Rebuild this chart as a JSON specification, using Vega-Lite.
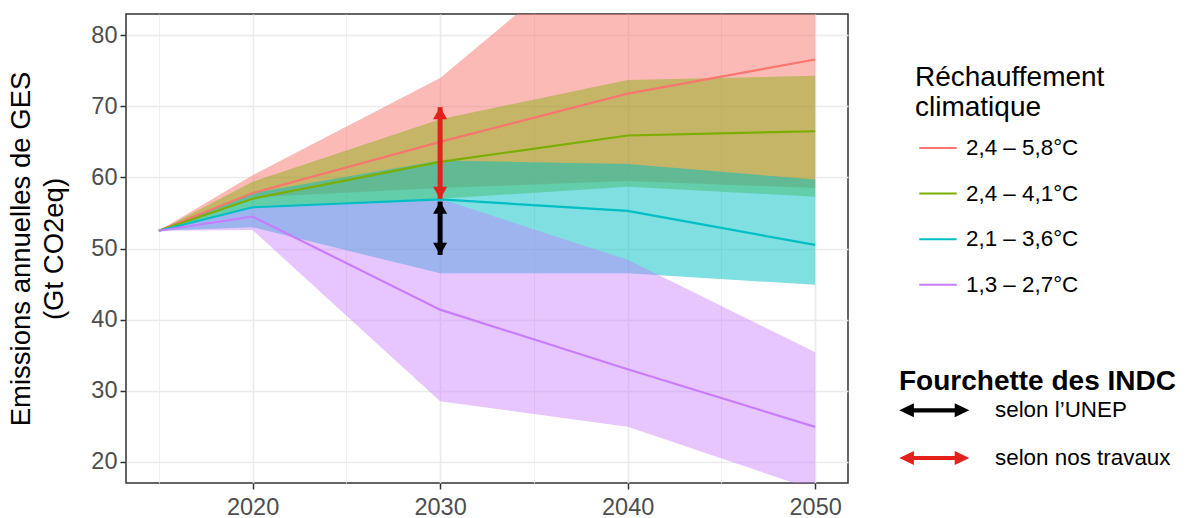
{
  "$schema": "https://vega.github.io/schema/vega-lite/v6.json",
  "width": 722,
  "height": 469,
  "autosize": "none",
  "padding": {"left": 126, "top": 14, "right": 354, "bottom": 35},
  "background": "white",
  "config": {
    "font": "Liberation Sans",
    "view": {"stroke": "#333333", "strokeWidth": 1.5},
    "legend": {"labelFont": "Liberation Sans", "titleFont": "Liberation Sans", "labelColor": "#000000", "titleColor": "#000000", "labelLimit": 400, "titleLimit": 400}
  },
  "datasets": {
    "bands": [
      {"scenario": "2,4 – 5,8°C", "year": 2015, "lo": 52.5, "med": 52.5, "hi": 52.5},
      {"scenario": "2,4 – 5,8°C", "year": 2020, "lo": 57.2, "med": 57.8, "hi": 60.3},
      {"scenario": "2,4 – 5,8°C", "year": 2030, "lo": 58.5, "med": 65.0, "hi": 74.0},
      {"scenario": "2,4 – 5,8°C", "year": 2040, "lo": 59.5, "med": 71.8, "hi": 96.0},
      {"scenario": "2,4 – 5,8°C", "year": 2050, "lo": 58.5, "med": 76.6, "hi": 110.0},
      {"scenario": "2,4 – 4,1°C", "year": 2015, "lo": 52.5, "med": 52.5, "hi": 52.5},
      {"scenario": "2,4 – 4,1°C", "year": 2020, "lo": 55.9, "med": 57.0, "hi": 59.4},
      {"scenario": "2,4 – 4,1°C", "year": 2030, "lo": 57.0, "med": 62.2, "hi": 68.2},
      {"scenario": "2,4 – 4,1°C", "year": 2040, "lo": 58.7, "med": 65.9, "hi": 73.7},
      {"scenario": "2,4 – 4,1°C", "year": 2050, "lo": 57.3, "med": 66.5, "hi": 74.3},
      {"scenario": "2,1 – 3,6°C", "year": 2015, "lo": 52.5, "med": 52.5, "hi": 52.5},
      {"scenario": "2,1 – 3,6°C", "year": 2020, "lo": 53.0, "med": 55.8, "hi": 57.8},
      {"scenario": "2,1 – 3,6°C", "year": 2030, "lo": 46.5, "med": 56.9, "hi": 62.4},
      {"scenario": "2,1 – 3,6°C", "year": 2040, "lo": 46.5, "med": 55.3, "hi": 61.9},
      {"scenario": "2,1 – 3,6°C", "year": 2050, "lo": 44.9, "med": 50.5, "hi": 59.7},
      {"scenario": "1,3 – 2,7°C", "year": 2015, "lo": 52.5, "med": 52.5, "hi": 52.5},
      {"scenario": "1,3 – 2,7°C", "year": 2020, "lo": 52.6, "med": 54.5, "hi": 55.9},
      {"scenario": "1,3 – 2,7°C", "year": 2030, "lo": 28.5, "med": 41.4, "hi": 57.0},
      {"scenario": "1,3 – 2,7°C", "year": 2040, "lo": 24.9, "med": 33.0, "hi": 48.4},
      {"scenario": "1,3 – 2,7°C", "year": 2050, "lo": 16.0, "med": 24.9, "hi": 35.4}
    ],
    "arrows": [
      {"source": "selon l’UNEP", "year": 2030, "lo": 49.1, "hi": 56.6},
      {"source": "selon nos travaux", "year": 2030, "lo": 57.0, "hi": 69.9}
    ]
  },
  "layer": [
    {
      "data": {"name": "bands"},
      "mark": {"type": "area", "clip": true},
      "encoding": {
        "x": {
          "field": "year", "type": "quantitative",
          "scale": {"domain": [2013.25, 2051.75], "nice": false, "zero": false},
          "axis": {
            "title": null,
            "values": [2015, 2020, 2025, 2030, 2035, 2040, 2045, 2050],
            "format": "d",
            "labelExpr": "datum.value % 10 === 0 ? datum.label : ''",
            "domain": false,
            "tickSize": 6,
            "tickWidth": 1.5,
            "tickColor": "#333333",
            "tickOpacity": {"condition": {"test": "datum.value % 10 === 0", "value": 1}, "value": 0},
            "gridColor": "#EBEBEB",
            "gridWidth": {"condition": {"test": "datum.value % 10 === 0", "value": 1.6}, "value": 0.8},
            "labelFontSize": 23.5,
            "labelColor": "#4D4D4D",
            "labelPadding": 6,
            "labelFlush": false,
            "labelOverlap": false
          }
        },
        "y": {
          "field": "lo", "type": "quantitative",
          "scale": {"domain": [17, 83], "nice": false, "zero": false},
          "axis": {
            "title": ["Emissions annuelles de GES", "(Gt CO2eq)"],
            "titleFontSize": 27.5,
            "titleFontWeight": "normal",
            "titleColor": "#000000",
            "titlePadding": 22,
            "titleLineHeight": 33,
            "values": [20, 25, 30, 35, 40, 45, 50, 55, 60, 65, 70, 75, 80],
            "labelExpr": "datum.value % 10 === 0 ? datum.label : ''",
            "domain": false,
            "tickSize": 6,
            "tickWidth": 1.5,
            "tickColor": "#333333",
            "tickOpacity": {"condition": {"test": "datum.value % 10 === 0", "value": 1}, "value": 0},
            "gridColor": "#EBEBEB",
            "gridWidth": {"condition": {"test": "datum.value % 10 === 0", "value": 1.6}, "value": 0.8},
            "labelFontSize": 23.5,
            "labelColor": "#4D4D4D",
            "labelPadding": 3,
            "labelFlush": false,
            "labelOverlap": false
          }
        },
        "y2": {"field": "hi"},
        "detail": {"field": "scenario", "type": "nominal"},
        "fill": {
          "condition": [
            {"test": "datum.scenario === '2,4 – 5,8°C'", "value": "#F8766D"},
            {"test": "datum.scenario === '2,4 – 4,1°C'", "value": "#7CAE00"},
            {"test": "datum.scenario === '2,1 – 3,6°C'", "value": "#00BFC4"}
          ],
          "value": "#C77CFF"
        },
        "opacity": {
          "condition": [
            {"test": "datum.scenario === '2,4 – 4,1°C'", "value": 0.43},
            {"test": "datum.scenario === '1,3 – 2,7°C'", "value": 0.43}
          ],
          "value": 0.5
        }
      }
    },
    {
      "data": {"name": "bands"},
      "mark": {"type": "line", "strokeWidth": 2.2, "clip": true},
      "encoding": {
        "x": {"field": "year", "type": "quantitative"},
        "y": {"field": "med", "type": "quantitative"},
        "stroke": {
          "field": "scenario", "type": "nominal",
          "scale": {"domain": ["2,4 – 5,8°C", "2,4 – 4,1°C", "2,1 – 3,6°C", "1,3 – 2,7°C"], "range": ["#F8766D", "#7CAE00", "#00BFC4", "#C77CFF"]},
          "legend": {
            "title": ["Réchauffement", "\u00a0climatique"],
            "orient": "none",
            "legendX": 789,
            "legendY": 50,
            "titleFontSize": 28,
            "titleFontWeight": "normal",
            "titleLineHeight": 30,
            "titlePadding": 6,
            "labelFontSize": 22.4,
            "symbolType": "stroke",
            "symbolSize": 1400,
            "symbolStrokeWidth": 2,
            "symbolOffset": 3,
            "labelOffset": 8,
            "rowPadding": 13.6,
            "padding": 0
          }
        }
      }
    },
    {
      "data": {"name": "arrows"},
      "mark": {"type": "rule", "strokeWidth": 5},
      "encoding": {
        "x": {"field": "year", "type": "quantitative"},
        "y": {"field": "lo", "type": "quantitative"},
        "y2": {"field": "hi"},
        "color": {"condition": {"test": "datum.source === 'selon nos travaux'", "value": "#E3211C"}, "value": "#000000"}
      }
    },
    {
      "data": {"name": "arrows"},
      "mark": {"type": "point", "shape": "triangle-down", "filled": true, "size": 200, "opacity": 1, "yOffset": -6},
      "encoding": {
        "x": {"field": "year", "type": "quantitative"},
        "y": {"field": "lo", "type": "quantitative"},
        "color": {"condition": {"test": "datum.source === 'selon nos travaux'", "value": "#E3211C"}, "value": "#000000"}
      }
    },
    {
      "data": {"name": "arrows"},
      "mark": {"type": "point", "shape": "triangle-up", "filled": true, "size": 200, "opacity": 1, "yOffset": 6},
      "encoding": {
        "x": {"field": "year", "type": "quantitative"},
        "y": {"field": "hi", "type": "quantitative"},
        "color": {
          "field": "source", "type": "nominal",
          "scale": {"domain": ["selon l’UNEP", "selon nos travaux"], "range": ["#000000", "#E3211C"]},
          "legend": {
            "title": "Fourchette des INDC",
            "orient": "none",
            "legendX": 773,
            "legendY": 354,
            "titleFontSize": 28,
            "titleFontWeight": "bold",
            "titlePadding": 2.3,
            "labelFontSize": 22.4,
            "symbolType": "M-3,0L-1.75,-0.6L-1.75,-0.18L1.75,-0.18L1.75,-0.6L3,0L1.75,0.6L1.75,0.18L-1.75,0.18L-1.75,0.6Z",
            "symbolSize": 544,
            "symbolOffset": 23.3,
            "symbolStrokeWidth": 0,
            "symbolOpacity": 1,
            "labelOffset": 48.7,
            "rowPadding": 23.7,
            "padding": 0,
            "encode": {
              "symbols": {
                "update": {
                  "shape": {"value": "M-3,0L-1.75,-0.6L-1.75,-0.18L1.75,-0.18L1.75,-0.6L3,0L1.75,0.6L1.75,0.18L-1.75,0.18L-1.75,0.6Z"},
                  "size": {"value": 544},
                  "opacity": {"value": 1},
                  "strokeWidth": {"value": 0}
                }
              }
            }
          }
        }
      }
    }
  ]
}
